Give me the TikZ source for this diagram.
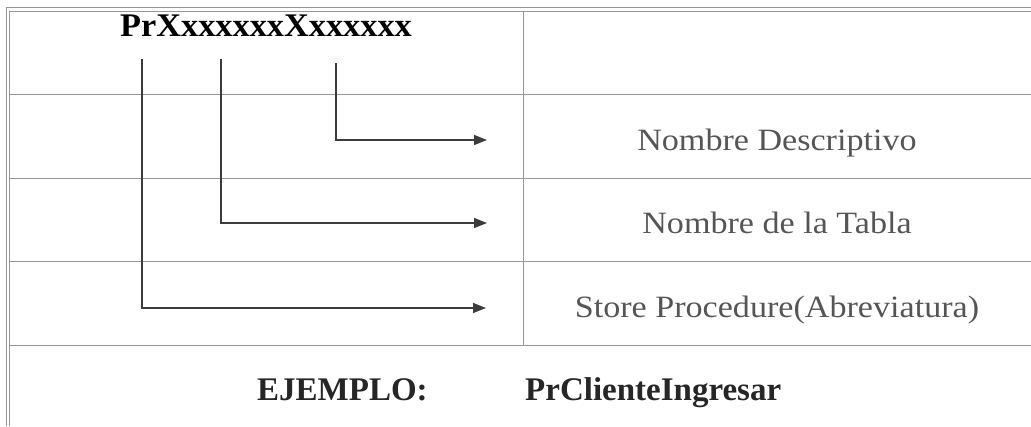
\documentclass[tikz,border=0pt]{standalone}
\usepackage{fontspec}
\setmainfont{Liberation Serif}
\newfontfamily\labfont[FakeStretch=1.1]{Liberation Serif}
\newfontfamily\topfont[FakeStretch=1.04]{Liberation Serif}
\usetikzlibrary{arrows.meta}
\definecolor{gridgray}{RGB}{150,150,150}
\definecolor{linkgray}{RGB}{60,60,60}
\definecolor{labgray}{RGB}{85,85,85}
\tikzset{
  frame/.style={draw=gridgray, line width=0.9pt},
  gridline/.style={draw=gridgray, line width=1pt},
  link/.style={draw=linkgray, line width=1.5pt, -{Triangle[length=13pt,width=10pt]}},
  lab/.style={anchor=base, inner sep=0pt, text=labgray, font=\labfont\fontsize{31}{36}\selectfont},
  title/.style={anchor=base, inner sep=0pt, text=black, font=\topfont\bfseries\fontsize{33}{38}\selectfont},
  example/.style={anchor=base west, inner sep=0pt, text=black!85, font=\bfseries\fontsize{33}{38}\selectfont}
}
\begin{document}
\begin{tikzpicture}[x=1pt,y=-1pt]
\useasboundingbox (0,0) rectangle (1031,426);
% frame (double line on top and left)
\draw[frame] (6,426) -- (6,7) -- (1031,7);
\draw[frame] (9,426) -- (9,11) -- (1031,11);
% grid
\draw[gridline] (9,94) -- (1031,94);
\draw[gridline] (9,178) -- (1031,178);
\draw[gridline] (9,261) -- (1031,261);
\draw[gridline] (9,345) -- (1031,345);
\draw[gridline] (523,11) -- (523,345);
% texts
\node[title] (name) at (266,36) {PrXxxxxxxXxxxxxx};
\node[lab] (desc) at (777,150) {Nombre Descriptivo};
\node[lab] (tabla) at (777,233) {Nombre de la Tabla};
\node[lab] (store) at (777,317) {Store Procedure(Abreviatura)};
\node[example] (ej) at (257,400) {EJEMPLO:};
\node[example] (ejname) at (525,400) {PrClienteIngresar};
% connector start and end points
\coordinate (s1) at (142,59);
\coordinate (s2) at (221,59);
\coordinate (s3) at (336,63);
\coordinate (e3) at (487,140);
\coordinate (e2) at (487,223);
\coordinate (e1) at (486,308);
% connectors
\draw[link] (s3) |- (e3);
\draw[link] (s2) |- (e2);
\draw[link] (s1) |- (e1);
\end{tikzpicture}
\end{document}
